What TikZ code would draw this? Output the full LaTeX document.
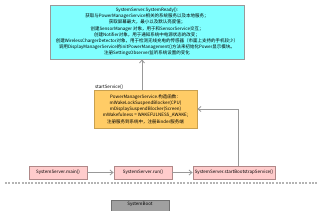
\documentclass[tikz,border=0pt]{standalone}
\usepackage{fontspec}
\setmainfont{Noto Sans CJK SC}
\usetikzlibrary{arrows.meta}
\definecolor{cyanfill}{HTML}{80FFFF}
\definecolor{orangefill}{HTML}{FFCC66}
\definecolor{orangeedge}{HTML}{C8A050}
\definecolor{pinkfill}{HTML}{FFCCCC}
\definecolor{pinkedge}{HTML}{B08888}
\definecolor{grayfill}{HTML}{A0A0A0}
\definecolor{grayedge}{HTML}{707070}
\definecolor{lineg}{HTML}{999999}
\definecolor{dashg}{HTML}{B4B4B4}
\tikzset{
  box/.style={draw, line width=0.8pt, inner sep=0pt, align=center,
    font=\fontsize{4.5pt}{6.2pt}\selectfont},
  cyanbox/.style={box, fill=cyanfill, draw=lineg},
  orangebox/.style={box, fill=orangefill, draw=orangeedge},
  pinkbox/.style={box, fill=pinkfill, draw=pinkedge},
  graybox/.style={box, fill=grayfill, draw=grayedge},
  conn/.style={draw=lineg, line width=0.8pt, -{Straight Barb[length=3pt,width=5pt]}},
  lbl/.style={font=\fontsize{4.5pt}{5pt}\selectfont, inner sep=0pt, anchor=south west}
}
\begin{document}
\begin{tikzpicture}[x=1pt,y=-1pt]
\useasboundingbox (0,0) rectangle (318,210);
\node[cyanbox, minimum width=194pt, minimum height=54pt] (sr) at (147,32) {SystemServer.SystemReady():\\
获取与PowerManagerService相关的系统服务以及本地服务；\\
获取屏幕最大，最小以及默认亮度值；\\
创建SensorManager 对象，用于和SensorService交互；\\
创建Notifier对象，用于通知系统中电源状态的改变；\\
创建WirelessChargerDetector对象，用于检测无线充电的传感器（市面上支持的手机较少）\\
调用DisplayManagerService的initPowerManagement()方法来初始化Power显示模块。\\
注册SettingsObserver监听系统设置的变化};
\node[orangebox, minimum width=103pt, minimum height=38pt] (pms) at (145.5,109) {PowerManagerService.构造函数：\\
mWakeLockSuspendBlocker(CPU)\\
mDisplaySuspendBlocker(Screen)\\
mWakefulness = WAKEFULNESS\_AWAKE;\\
注册服务到系统中，注册Binder服务端};
\node[lbl] (ss) at (95,89.5) {startService()};
\node[pinkbox, minimum width=58pt, minimum height=13pt] (main) at (58,172.5) {SystemServer.main()};
\node[pinkbox, minimum width=58pt, minimum height=13pt] (run) at (143,172.5) {SystemServer.run()};
\node[pinkbox, minimum width=82pt, minimum height=13pt] (boot) at (234,172.5) {SystemServer.startBootstrapService()};
\node[graybox, minimum width=58pt, minimum height=16pt, anchor=north] (sb) at (140,200) {};
\node[font=\fontsize{4.5pt}{5pt}\selectfont, inner sep=0pt] (sbt) at (140,204.5) {SystemBoot};
\coordinate (ax) at (142,0);
\coordinate (bx) at (238,0);
\coordinate (dl) at (5,183);
\coordinate (dr) at (318,183);
\draw[conn] (pms.north -| ax) -- (sr.south -| ax);
\draw[conn] (boot.north -| bx) |- (pms.east);
\draw[conn] (main) -- (run);
\draw[conn] (run) -- (boot);
\draw[draw=dashg, line width=2pt, dash pattern=on 2pt off 1.3pt] (dl) -- (dr);
\end{tikzpicture}
\end{document}
